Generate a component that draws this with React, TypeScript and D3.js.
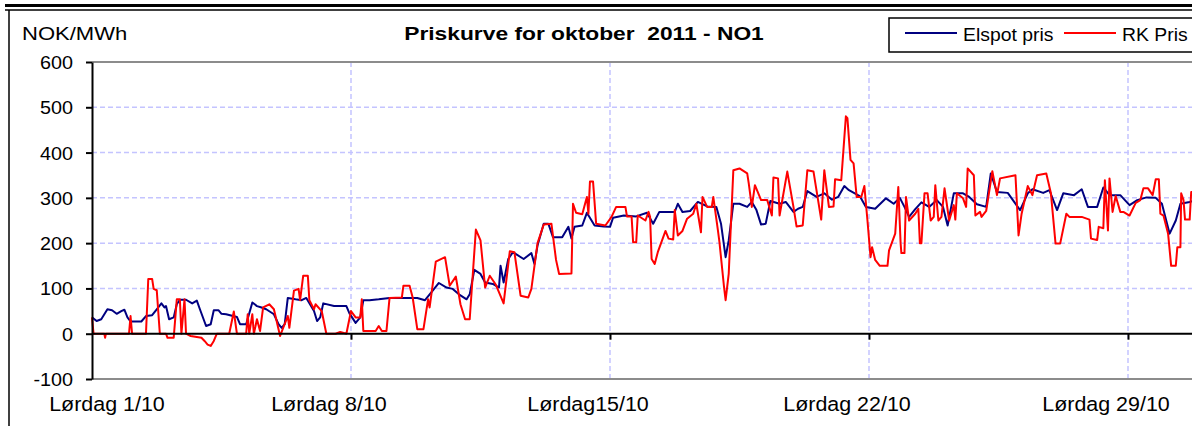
import React, { useEffect, useRef } from 'react'
import * as d3 from 'd3'

const yTicks = [-100, 0, 100, 200, 300, 400, 500, 600]
const weekHours = [0, 168, 336, 504, 672]
const weekLabels = ['Lørdag 1/10', 'Lørdag 8/10', 'Lørdag15/10', 'Lørdag 22/10', 'Lørdag 29/10']
const seriesNames = ['Elspot pris', 'RK Pris']
const seriesColors = ['#000080', '#ff0000']

// [hour since 1 Oct 00:00, NOK/MWh]
const elspot: [number, number][] = [
  [0, 36], [3, 28], [6, 32], [10, 54], [13, 52], [16, 44], [19, 50], [21, 53], [23, 36], [25, 27],
  [32, 27], [35, 39], [39, 41], [42, 54], [45, 67], [47, 58], [48, 61], [50, 32], [53, 36], [55, 65],
  [57, 75], [61, 75], [65, 67], [68, 73], [70, 54], [74, 17], [77, 21], [79, 52], [82, 52], [84, 44],
  [87, 43], [94, 37], [96, 21], [100, 21], [104, 69], [107, 61], [110, 58], [113, 54], [118, 43], [121, 21],
  [123, 13], [125, 21], [127, 79], [132, 76], [136, 74], [139, 79], [144, 50], [146, 28], [148, 36], [150, 67],
  [157, 61], [165, 61], [167, 45], [171, 24], [174, 36], [176, 74], [180, 74], [186, 76], [193, 79], [211, 79],
  [216, 74], [221, 95], [225, 112], [230, 102], [234, 99], [238, 87], [243, 76], [245, 87], [248, 141], [252, 132],
  [255, 113], [260, 110], [264, 102], [265, 150], [267, 113], [270, 165], [273, 180], [280, 165], [285, 178], [287, 154],
  [289, 195], [293, 243], [296, 243], [299, 213], [305, 213], [309, 236], [311, 210], [313, 236], [318, 239], [321, 267],
  [326, 239], [332, 237], [336, 236], [338, 256], [345, 261], [353, 259], [360, 267], [364, 243], [368, 269], [378, 269],
  [380, 287], [383, 269], [388, 271], [393, 291], [399, 281], [405, 280], [408, 243], [411, 169], [413, 206], [416, 287],
  [420, 287], [425, 280], [428, 291], [431, 273], [434, 241], [437, 243], [440, 293], [446, 287], [450, 291], [455, 269],
  [458, 276], [461, 280], [464, 315], [470, 302], [475, 310], [480, 296], [484, 302], [488, 326], [491, 317], [498, 304],
  [502, 280], [508, 276], [515, 299], [520, 287], [524, 300], [527, 280], [530, 258], [534, 275], [538, 290], [543, 280],
  [548, 295], [552, 280], [555, 239], [559, 310], [565, 310], [569, 302], [574, 286], [580, 280], [583, 354], [587, 313],
  [594, 311], [602, 273], [607, 310], [610, 319], [617, 311], [621, 317], [626, 273], [630, 310], [637, 306], [642, 319],
  [646, 280], [652, 280], [656, 323], [660, 306], [667, 306], [673, 284], [678, 295], [684, 301], [690, 300], [694, 287],
  [699, 221], [703, 250], [706, 287], [712, 291], [716, 295],
]

const rkPris: [number, number][] = [
  [0, 36], [1, 0], [8, 0], [8.5, -9], [9, 0], [24, 0], [25, 39], [26, 0], [35, 0], [36.5, 121],
  [39, 121], [40, 99], [42, 96], [44, 0], [48, 0], [49, -9], [53, -9], [55, 76], [57, 76], [58, 0],
  [60, 76], [61, 0], [64, -5], [71, -9], [73, -16], [75, -24], [77, -27], [79, -16], [81, 0], [89, 0],
  [92, 49], [94, 0], [100, 0], [101, 43], [102, 0], [104, 43], [105, 0], [107, 32], [109, 6], [111, 58],
  [115, 65], [118, 54], [122, -5], [124, 13], [127, 39], [128, 13], [131, 95], [134, 99], [135, 74], [137, 128],
  [140, 128], [141, 74], [144, 54], [145, 65], [149, 50], [152, 0], [158, 0], [161, 4], [165, 0], [168, 50],
  [171, 36], [174, 36], [175, 76], [176, 6], [184, 6], [186, 17], [188, 6], [191, 6], [193, 79], [201, 80],
  [202, 106], [206, 106], [208, 80], [211, 10], [215, 10], [218, 76], [219, 58], [223, 159], [229, 169], [232, 106],
  [236, 126], [239, 65], [242, 32], [245, 32], [249, 230], [252, 206], [255, 102], [258, 128], [262, 108], [267, 67],
  [271, 182], [274, 180], [278, 84], [283, 80], [285, 99], [289, 200], [293, 241], [298, 243], [301, 163], [303, 132],
  [311, 133], [312, 287], [314, 267], [318, 264], [321, 302], [322, 265], [323, 336], [325, 336], [327, 243], [333, 239],
  [337, 258], [340, 280], [346, 280], [347, 259], [350, 259], [351, 202], [353, 202], [354, 261], [359, 250], [361, 269],
  [362, 258], [363, 165], [365, 154], [367, 180], [372, 227], [374, 210], [377, 208], [378, 273], [380, 217], [383, 227],
  [386, 254], [390, 265], [392, 287], [395, 224], [396, 302], [399, 280], [402, 280], [403, 302], [406, 228], [407, 202],
  [410, 102], [411, 74], [413, 132], [416, 361], [420, 365], [425, 354], [426, 332], [428, 280], [430, 328], [434, 295],
  [438, 295], [441, 261], [442, 345], [445, 343], [446, 261], [451, 358], [455, 280], [457, 237], [461, 239], [464, 361],
  [468, 358], [473, 252], [475, 361], [478, 280], [481, 281], [482, 341], [486, 339], [489, 480], [490, 476], [492, 384],
  [494, 376], [496, 302], [499, 302], [501, 326], [503, 250], [505, 169], [506, 191], [508, 163], [511, 150], [516, 150],
  [517, 184], [521, 221], [523, 324], [524.5, 200], [525, 178], [527, 178], [528, 302], [530, 250], [534, 265], [536, 276],
  [537, 200], [538, 200], [540, 310], [542, 310], [544, 250], [546, 258], [547, 328], [549, 250], [551, 258], [553, 321],
  [556, 250], [559, 284], [560, 252], [561, 310], [565, 299], [567, 280], [568, 365], [572, 350], [573, 261], [576, 269],
  [577, 258], [580, 271], [584, 359], [587, 306], [589, 343], [599, 350], [601, 217], [603, 265], [607, 326], [610, 306],
  [613, 350], [619, 354], [622, 310], [625, 199], [628, 199], [632, 265], [634, 258], [642, 258], [647, 252], [648, 210],
  [652, 207], [653, 236], [656, 233], [657, 339], [659, 228], [660, 343], [662, 269], [664, 304], [667, 269], [669, 269],
  [673, 261], [677, 289], [680, 295], [682, 321], [685, 321], [688, 306], [690, 341], [692, 341], [693, 265], [695, 261],
  [698, 221], [700, 150], [703, 150], [704, 191], [706, 191], [706.5, 310], [708, 295], [709, 252], [712, 252], [713, 313],
  [716, 313],
]

const FONT = 'Arial, "Liberation Sans", sans-serif'
const W = 1192
const H = 426

export default function App() {
  const ref = useRef<SVGSVGElement>(null)

  useEffect(() => {
    document.body.style.margin = '0'
    const svg = d3.select(ref.current)
    svg.selectAll('*').remove()

    const left = 92
    const top = 62
    const bottom = 379
    const x = d3.scaleLinear().domain([0, 744]).range([left, left + (744 * 259) / 168])
    const y = d3.scaleLinear().domain([-100, 600]).range([bottom, top])

    const text = (px: number, py: number, s: string, size: number, sx: number, anchor = 'start', weight = 'normal') =>
      svg
        .append('text')
        .attr('transform', `translate(${px},${py}) scale(${sx},1)`)
        .attr('text-anchor', anchor)
        .attr('font-family', FONT)
        .attr('font-size', size)
        .attr('font-weight', weight)
        .attr('fill', '#000')
        .text(s)

    svg.append('rect').attr('width', W).attr('height', H).attr('fill', '#fff')

    // outer frame
    svg.append('line').attr('x1', 5).attr('x2', W).attr('y1', 5.5).attr('y2', 5.5).attr('stroke', '#000').attr('stroke-width', 3)
    svg.append('line').attr('x1', 5).attr('x2', W).attr('y1', 10).attr('y2', 10).attr('stroke', '#000').attr('stroke-width', 1.5)
    svg.append('line').attr('x1', 9).attr('x2', 9).attr('y1', 10).attr('y2', H).attr('stroke', '#000').attr('stroke-width', 1.5)

    // grid
    const grid = svg.append('g').attr('stroke', '#c4c4ff').attr('stroke-width', 1.5).attr('stroke-dasharray', '5,3')
    grid
      .selectAll('line.h')
      .data(yTicks.filter(d => d > 0))
      .enter()
      .append('line')
      .attr('x1', left)
      .attr('x2', W)
      .attr('y1', d => y(d))
      .attr('y2', d => y(d))
    grid
      .selectAll('line.v')
      .data(weekHours.slice(1))
      .enter()
      .append('line')
      .attr('x1', d => x(d))
      .attr('x2', d => x(d))
      .attr('y1', top)
      .attr('y2', bottom)

    // plot area border top/bottom
    svg.append('line').attr('x1', left).attr('x2', W).attr('y1', top).attr('y2', top).attr('stroke', '#8c8c8c').attr('stroke-width', 2)
    svg.append('line').attr('x1', left).attr('x2', W).attr('y1', bottom).attr('y2', bottom).attr('stroke', '#8c8c8c').attr('stroke-width', 2)

    // lines
    const line = d3
      .line<[number, number]>()
      .x(d => x(d[0]))
      .y(d => y(d[1]))
    ;[elspot, rkPris].forEach((data, i) => {
      svg
        .append('path')
        .datum(data)
        .attr('fill', 'none')
        .attr('stroke', seriesColors[i])
        .attr('stroke-width', 2)
        .attr('stroke-linejoin', 'round')
        .attr('d', line)
    })

    // x axis on zero line
    const xAxis = svg
      .append('g')
      .attr('transform', `translate(0,${y(0)})`)
      .call(
        d3
          .axisBottom(x)
          .tickValues(weekHours.slice(1))
          .tickSize(6)
          .tickFormat(() => '')
      )
    xAxis.select('.domain').remove()
    xAxis.selectAll('line').attr('stroke', '#000').attr('stroke-width', 2)
    svg.append('line').attr('x1', left).attr('x2', W).attr('y1', y(0)).attr('y2', y(0)).attr('stroke', '#000').attr('stroke-width', 2)

    // y axis
    const yAxis = svg
      .append('g')
      .attr('transform', `translate(${left},0)`)
      .call(
        d3
          .axisLeft(y)
          .tickValues(yTicks)
          .tickSize(6)
          .tickSizeOuter(0)
          .tickFormat(d => `${d}`)
      )
    yAxis.select('.domain').attr('stroke', '#000').attr('stroke-width', 2)
    yAxis.selectAll('line').attr('stroke', '#000').attr('stroke-width', 2)
    yAxis
      .selectAll('text')
      .attr('x', null)
      .attr('dy', null)
      .attr('transform', 'translate(-19,6.5) scale(1.13,1)')
      .attr('font-family', FONT)
      .attr('font-size', 17.5)
      .attr('fill', '#000')

    // x labels
    weekHours.forEach((h, i) => {
      text(Math.max(x(h) - 22, 107), 411, weekLabels[i], 19.5, 1.1, 'middle')
    })

    // titles
    text(22, 40, 'NOK/MWh', 19, 1.16)
    text(584, 40, 'Priskurve for oktober  2011 - NO1', 19, 1.2, 'middle', 'bold').attr('xml:space', 'preserve').style('white-space', 'pre')

    // legend
    svg.append('rect').attr('x', 889).attr('y', 18).attr('width', 400).attr('height', 34).attr('fill', '#fff').attr('stroke', '#000').attr('stroke-width', 1.5)
    const legendX = [905, 1064]
    seriesNames.forEach((name, i) => {
      svg
        .append('line')
        .attr('x1', legendX[i])
        .attr('x2', legendX[i] + 52)
        .attr('y1', 33)
        .attr('y2', 33)
        .attr('stroke', seriesColors[i])
        .attr('stroke-width', 2)
      text(legendX[i] + 58, 41, name, 19, 1.02)
    })
  }, [])

  return <svg ref={ref} width={W} height={H} style={{ display: 'block' }} />
}
